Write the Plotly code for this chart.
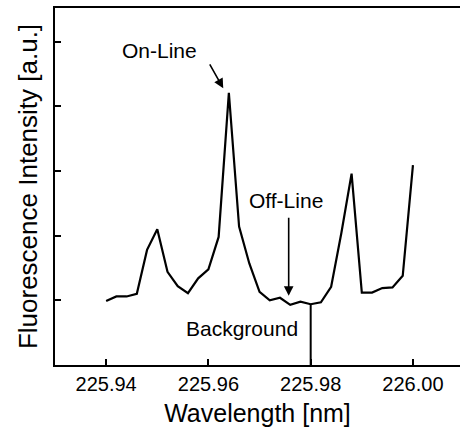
import plotly.graph_objects as go

# Data
wavelength = [225.940, 225.942, 225.944, 225.946, 225.948, 225.950, 225.952, 225.954,
              225.956, 225.958, 225.960, 225.962, 225.964, 225.966, 225.968, 225.970,
              225.972, 225.974, 225.976, 225.978, 225.980, 225.982, 225.984, 225.986,
              225.988, 225.990, 225.992, 225.994, 225.996, 225.998, 226.000]
intensity = [0.99, 1.06, 1.06, 1.10, 1.78, 2.10, 1.44, 1.22,
             1.11, 1.34, 1.48, 1.98, 4.21, 2.14, 1.57, 1.13,
             1.00, 1.04, 0.93, 0.98, 0.94, 0.97, 1.21, 2.04,
             2.96, 1.12, 1.12, 1.19, 1.20, 1.38, 3.09]
x_ticks = [225.94, 225.96, 225.98, 226.00]
x_tick_labels = ["225.94", "225.96", "225.98", "226.00"]
y_ticks = [1, 2, 3, 4, 5]

bg_index = 20  # background point at 225.98

FONT = "Liberation Sans, Arial, sans-serif"

fig = go.Figure()
fig.add_trace(go.Scatter(x=wavelength, y=intensity, mode="lines",
                         line=dict(color="black", width=2.2), showlegend=False,
                         hoverinfo="skip"))

# Background marker line from curve down to axis
fig.add_shape(type="line", xref="x", yref="y",
              x0=wavelength[bg_index], x1=wavelength[bg_index],
              y0=0, y1=intensity[bg_index],
              line=dict(color="black", width=2))

annotations = [
    dict(x=225.9505, y=4.87, text="On-Line", showarrow=False),
    dict(x=225.9629, y=4.28, ax=225.9601, ay=4.67, axref="x", ayref="y",
         text="", showarrow=True, arrowhead=2, arrowsize=1.2, arrowwidth=1.6,
         arrowcolor="black"),
    dict(x=225.9752, y=2.55, text="Off-Line", showarrow=False),
    dict(x=225.9757, y=1.07, ax=225.9757, ay=2.30, axref="x", ayref="y",
         text="", showarrow=True, arrowhead=2, arrowsize=1.2, arrowwidth=1.6,
         arrowcolor="black"),
    dict(x=225.9666, y=0.57, text="Background", showarrow=False),
]
for a in annotations:
    a.update(xref="x", yref="y", font=dict(family=FONT, size=21, color="black"))
    fig.add_annotation(**a)

fig.update_layout(
    width=460, height=427,
    margin=dict(l=55, r=0, t=8, b=62),
    paper_bgcolor="white", plot_bgcolor="white",
    font=dict(family=FONT, color="black"),
    xaxis=dict(range=[225.93, 226.0092], tickvals=x_ticks, ticktext=x_tick_labels,
               ticks="inside", ticklen=6, tickwidth=2, tickcolor="black",
               showline=True, linewidth=2, linecolor="black", mirror=True,
               showgrid=False, zeroline=False,
               tickfont=dict(size=20, family=FONT, color="black"),
               title=dict(text="Wavelength [nm]", font=dict(size=25, family=FONT),
                          standoff=10)),
    yaxis=dict(range=[0, 5.52], tickvals=y_ticks, showticklabels=False,
               ticks="inside", ticklen=6, tickwidth=2, tickcolor="black",
               showline=True, linewidth=2, linecolor="black", mirror=False,
               showgrid=False, zeroline=False,
               title=dict(text="Fluorescence Intensity [a.u.]",
                          font=dict(size=26, family=FONT), standoff=8)),
)

fig.write_html("out.html")
